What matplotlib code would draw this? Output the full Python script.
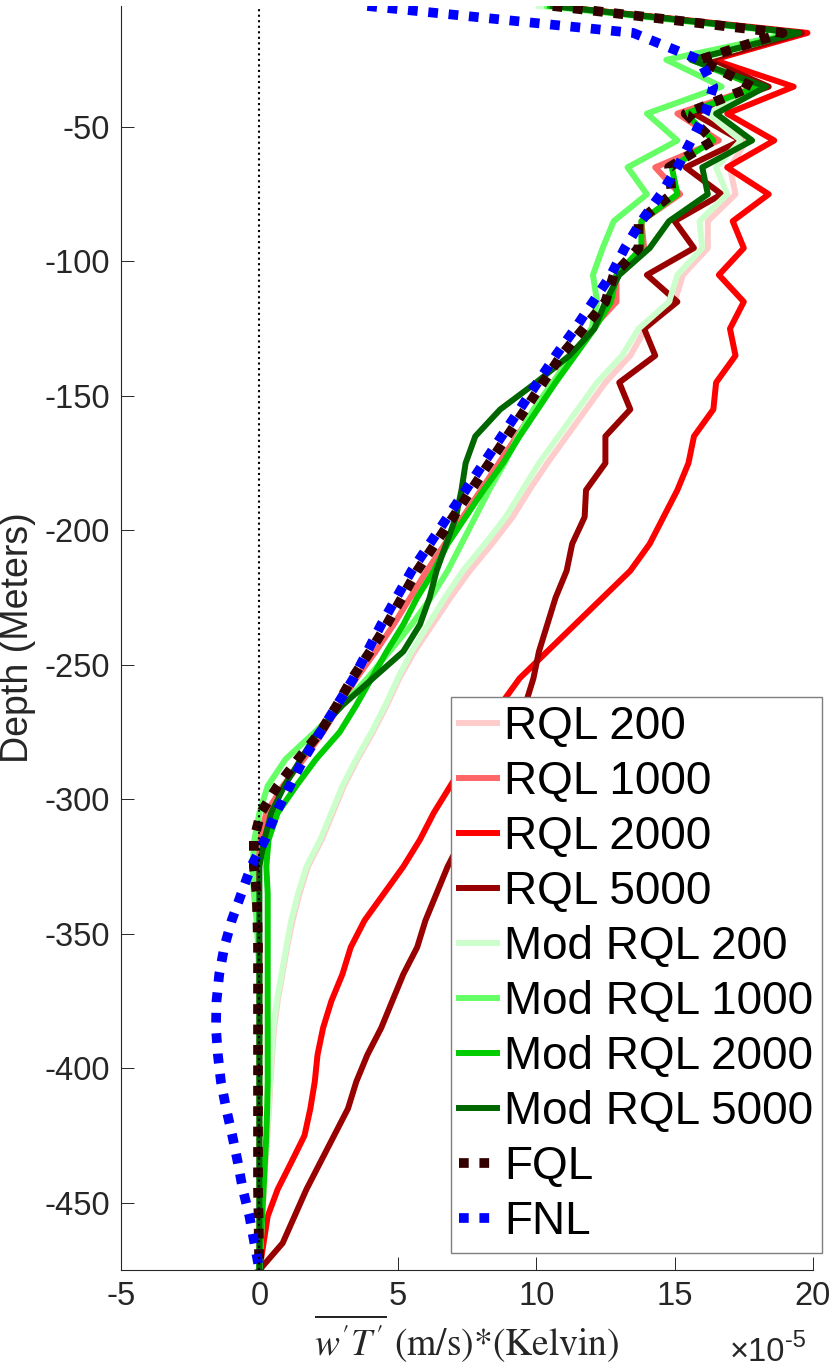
import matplotlib
matplotlib.use("Agg")
import matplotlib.pyplot as plt
from matplotlib.ticker import FuncFormatter

plt.rcParams["font.family"] = ["Liberation Sans", "DejaVu Sans"]
plt.rcParams["axes.unicode_minus"] = False
plt.rcParams["mathtext.fontset"] = "stix"

# depth of each level (m)
depth = [-5, -15, -25, -35, -45, -55, -65, -75, -85, -95, -105, -115,
         -125, -135, -145, -155, -165, -175, -185, -195, -205, -215, -225, -235,
         -245, -255, -265, -275, -285, -295, -305, -315, -325, -335, -345, -355,
         -365, -375, -385, -395, -405, -415, -425, -435, -445, -455, -465, -475]

# heat flux profiles, in units of 1e-5 (m/s)*K
rql_200 = [10.5, 19.5, 16.1, 18.2, 16.3, 17.6, 17.0, 17.2, 16.2, 16.2, 15.3, 15.0,
           13.95, 13.4, 12.5, 11.8, 11.1, 10.4, 9.75, 9.15, 8.4, 7.6, 6.9, 6.25,
           5.6, 5.05, 4.6, 4.1, 3.55, 3.05, 2.65, 2.25, 1.75, 1.45, 1.2, 1.0,
           0.83, 0.66, 0.53, 0.46, 0.4, 0.35, 0.29, 0.22, 0.17, 0.11, 0.06, 0.0]
rql_1000 = [10.5, 19.5, 16.0, 18.0, 15.1, 16.6, 14.3, 15.2, 13.8, 13.9, 12.9, 12.9,
            12.0, 11.3, 10.6, 9.95, 9.3, 8.65, 8.0, 7.35, 6.7, 6.05, 5.45, 4.85,
            4.2, 3.5, 2.9, 2.3, 1.6, 0.85, 0.25, 0.0, -0.05, -0.05, -0.03, 0.0,
            0.0, 0.0, 0.0, 0.0, 0.0, 0.0, 0.0, 0.0, 0.0, 0.0, 0.0, 0.0]
rql_2000 = [10.6, 19.8, 16.4, 19.3, 16.9, 18.6, 16.9, 18.4, 17.1, 17.5, 16.6, 17.5,
            17.0, 17.2, 16.5, 16.4, 15.7, 15.5, 15.1, 14.6, 14.1, 13.4, 12.4, 11.4,
            10.4, 9.4, 8.7, 8.1, 7.5, 6.9, 6.3, 5.8, 5.2, 4.5, 3.8, 3.3,
            3.0, 2.6, 2.3, 2.1, 2.0, 1.84, 1.63, 1.15, 0.66, 0.3, 0.15, 0.0]
rql_5000 = [10.5, 19.6, 16.2, 18.4, 15.7, 17.4, 15.4, 16.7, 15.0, 15.7, 14.0, 15.1,
            13.9, 14.3, 13.0, 13.4, 12.5, 12.5, 11.8, 11.75, 11.3, 11.1, 10.7, 10.4,
            10.1, 9.9, 9.6, 9.2, 8.7, 8.2, 7.7, 7.3, 6.8, 6.4, 6.0, 5.7,
            5.2, 4.8, 4.4, 3.9, 3.5, 3.2, 2.7, 2.2, 1.7, 1.27, 0.84, 0.0]
mod_200 = [10.1, 19.3, 15.9, 18.0, 16.2, 17.4, 16.5, 16.9, 15.9, 16.0, 15.1, 14.8,
           13.7, 13.1, 12.2, 11.5, 10.8, 10.1, 9.5, 8.9, 8.15, 7.35, 6.7, 6.1,
           5.5, 5.0, 4.55, 4.05, 3.5, 3.0, 2.6, 2.2, 1.7, 1.4, 1.15, 0.97,
           0.8, 0.63, 0.5, 0.44, 0.38, 0.33, 0.27, 0.2, 0.15, 0.1, 0.05, 0.0]
mod_1000 = [10.4, 19.3, 14.7, 16.7, 14.0, 15.1, 13.3, 14.0, 12.8, 12.4, 12.05, 12.2,
            12.0, 11.3, 10.6, 9.9, 9.35, 8.85, 8.3, 7.8, 7.3, 6.8, 6.2, 5.5,
            4.7, 3.9, 3.0, 2.0, 0.95, 0.3, 0.0, -0.18, -0.25, -0.2, -0.1, -0.05,
            0.0, 0.0, 0.0, 0.0, 0.0, 0.0, 0.0, 0.0, 0.0, 0.0, 0.0, 0.0]
mod_2000 = [10.5, 19.4, 15.6, 18.0, 15.4, 16.4, 14.9, 15.1, 13.8, 13.8, 12.9, 12.7,
            12.1, 11.4, 10.7, 10.05, 9.4, 8.8, 8.1, 7.45, 6.8, 6.3, 5.7, 5.2,
            4.6, 4.05, 3.5, 2.9, 2.05, 1.33, 0.66, 0.33, 0.25, 0.3, 0.3, 0.3,
            0.3, 0.3, 0.3, 0.3, 0.3, 0.28, 0.25, 0.2, 0.15, 0.1, 0.05, 0.0]
mod_5000 = [10.6, 19.5, 15.6, 18.3, 16.5, 17.8, 16.0, 16.2, 14.8, 14.1, 13.0, 12.5,
            12.1, 11.2, 10.0, 8.7, 7.8, 7.45, 7.3, 7.1, 6.75, 6.4, 6.15, 5.8,
            5.2, 4.1, 3.0, 2.1, 1.5, 0.9, 0.43, 0.18, 0.0, 0.0, 0.0, 0.0,
            0.0, 0.0, 0.0, 0.0, 0.0, 0.0, 0.0, 0.0, 0.0, 0.0, 0.0, 0.0]
fql = [10.6, 18.9, 15.9, 17.8, 15.4, 16.4, 14.8, 14.9, 13.7, 13.7, 12.8, 12.5,
       11.7, 10.9, 10.25, 9.6, 8.95, 8.3, 7.65, 7.0, 6.35, 5.7, 5.15, 4.6,
       4.0, 3.35, 2.8, 2.2, 1.4, 0.66, 0.05, -0.2, -0.2, -0.1, -0.07, -0.05,
       -0.05, -0.05, -0.05, -0.05, -0.05, -0.05, -0.05, -0.05, -0.05, -0.03, -0.02, 0.0]
fnl = [3.9, 13.5, 15.9, 16.4, 16.1, 15.6, 15.1, 14.5, 13.8, 13.2, 12.7, 12.05,
       11.4, 10.7, 10.05, 9.4, 8.75, 8.1, 7.45, 6.8, 6.15, 5.5, 4.95, 4.4,
       3.9, 3.4, 2.8, 2.2, 1.6, 1.1, 0.6, 0.2, -0.3, -0.65, -1.0, -1.27,
       -1.45, -1.55, -1.57, -1.5, -1.39, -1.2, -0.98, -0.78, -0.6, -0.36, -0.18, 0.0]

SCALE = 1e-5
x_ticks = [-5, 0, 5, 10, 15, 20]
y_ticks = [-450, -400, -350, -300, -250, -200, -150, -100, -50]

series = [
    ("RQL 200", rql_200, "#FFCCCC", "-"),
    ("RQL 1000", rql_1000, "#FF6666", "-"),
    ("RQL 2000", rql_2000, "#FF0000", "-"),
    ("RQL 5000", rql_5000, "#990000", "-"),
    ("Mod RQL 200", mod_200, "#CCFFCC", "-"),
    ("Mod RQL 1000", mod_1000, "#66FF66", "-"),
    ("Mod RQL 2000", mod_2000, "#00CC00", "-"),
    ("Mod RQL 5000", mod_5000, "#006600", "-"),
    ("FQL", fql, "#330000", ":"),
    ("FNL", fnl, "#0000FF", ":"),
]

fig = plt.figure(figsize=(8.3, 13.68), dpi=100)
ax = fig.add_axes([121 / 830, (1368 - 1270) / 1368, (813 - 121) / 830, (1270 - 6) / 1368])

for label, vals, color, style in series:
    xs = [v * SCALE for v in vals]
    if style == ":":
        ax.plot(xs, depth, color=color, lw=7, ls=(0, (1, 1.1)), label=label, zorder=2)
    else:
        ax.plot(xs, depth, color=color, lw=4.3, label=label, zorder=2)

# zero reference line, drawn over the profiles
ax.axvline(0, color="black", ls=":", lw=1.5, zorder=3)

ax.set_xlim(-5 * SCALE, 20 * SCALE)
ax.set_ylim(-475, -5)
ax.set_xticks([t * SCALE for t in x_ticks])
ax.set_yticks(y_ticks)
ax.xaxis.set_major_formatter(FuncFormatter(lambda x, pos: f"{x / SCALE:.0f}"))

gray = "#262626"
for side in ["top", "right"]:
    ax.spines[side].set_visible(False)
for side in ["left", "bottom"]:
    ax.spines[side].set_color(gray)
    ax.spines[side].set_linewidth(0.8)
ax.tick_params(direction="in", length=9.5, width=0.7, color=gray,
               labelcolor=gray, labelsize=23.5, pad=8)

# exponent label under the right end of the x axis
fig.text(785 / 830, 1 - 1361 / 1368, "\u00d710", fontsize=23.5, color=gray,
         ha="right", va="baseline")
fig.text(785 / 830, 1 - 1347 / 1368, "-5", fontsize=17, color=gray,
         ha="left", va="baseline")

ax.set_ylabel("Depth (Meters)", fontsize=27, color=gray, labelpad=6)
ax.set_xlabel(r"$\overline{w'T'}$ (m/s)*(Kelvin)", fontsize=27, color=gray,
              family="STIXGeneral", labelpad=0)

leg = ax.legend(loc="upper left", bbox_to_anchor=(451 / 830, 1 - 697 / 1368),
                bbox_transform=fig.transFigure, borderaxespad=0, fontsize=33,
                handlelength=0.83, handletextpad=0.15, labelspacing=0.24,
                borderpad=0.18, fancybox=False, framealpha=1)
leg.get_frame().set_edgecolor("#7f7f7f")
leg.get_frame().set_linewidth(1.0)
leg.set_zorder(5)

fig.savefig("out.png", dpi=100)
